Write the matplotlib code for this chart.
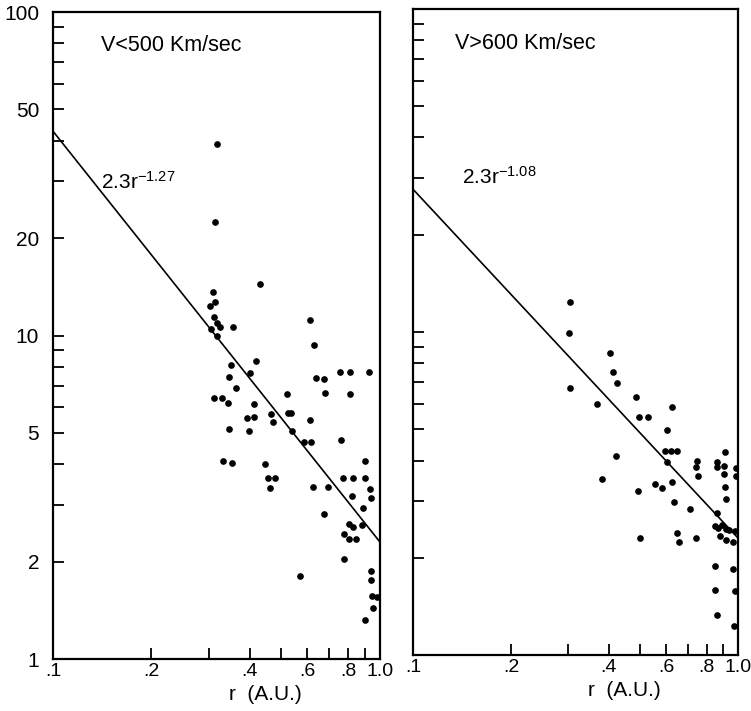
import matplotlib.pyplot as plt
import numpy as np

# Points: r in A.U., value on the log y axis
slow_r = [0.317, 0.313, 0.430, 0.611, 0.309, 0.312, 0.302, 0.311, 0.317, 0.305,
          0.324, 0.355, 0.318, 0.418, 0.350, 0.400, 0.345, 0.362, 0.521, 0.311,
          0.328, 0.342, 0.413, 0.465, 0.523, 0.534, 0.391, 0.412, 0.470, 0.346,
          0.398, 0.538, 0.331, 0.353, 0.446, 0.454, 0.476, 0.461, 0.630, 0.756,
          0.808, 0.925, 0.636, 0.674, 0.680, 0.810, 0.611, 0.587, 0.615, 0.760,
          0.900, 0.772, 0.827, 0.898, 0.625, 0.692, 0.932, 0.821, 0.937, 0.889,
          0.675, 0.804, 0.829, 0.881, 0.778, 0.804, 0.843, 0.778, 0.569, 0.937,
          0.937, 0.943, 0.977, 0.954, 0.900]
slow_v = [39.1, 22.4, 14.4, 11.2, 13.6, 12.7, 12.3, 11.4, 10.9, 10.45,
          10.6, 10.6, 10.0, 8.32, 8.09, 7.66, 7.43, 6.90, 6.58, 6.41,
          6.41, 6.17, 6.15, 5.72, 5.75, 5.75, 5.55, 5.61, 5.39, 5.15,
          5.07, 5.07, 4.09, 4.04, 4.01, 3.64, 3.64, 3.38, 9.35, 7.73,
          7.73, 7.73, 7.37, 7.32, 6.63, 6.58, 5.48, 4.68, 4.68, 4.74,
          4.10, 3.64, 3.64, 3.64, 3.40, 3.40, 3.36, 3.18, 3.15, 2.94,
          2.81, 2.61, 2.56, 2.60, 2.43, 2.35, 2.35, 2.04, 1.81, 1.87,
          1.76, 1.57, 1.55, 1.44, 1.32]

fast_r = [0.304, 0.302, 0.403, 0.413, 0.425, 0.303, 0.484, 0.367, 0.497, 0.527,
          0.625, 0.605, 0.595, 0.622, 0.648, 0.421, 0.382, 0.606, 0.910, 0.749,
          0.740, 0.864, 0.864, 0.904, 0.982, 0.982, 0.904, 0.752, 0.556, 0.582,
          0.627, 0.492, 0.914, 0.921, 0.634, 0.712, 0.864, 0.85, 0.87, 0.89,
          0.92, 0.94, 0.878, 0.921, 0.965, 0.98, 0.500, 0.648, 0.657, 0.740,
          0.847, 0.965, 0.847, 0.98, 0.864, 0.97]
fast_v = [12.4, 9.91, 8.61, 7.52, 6.94, 6.73, 6.31, 5.98, 5.46, 5.46,
          5.87, 4.98, 4.29, 4.29, 4.29, 4.14, 3.50, 3.95, 4.26, 4.00,
          3.83, 3.95, 3.82, 3.86, 3.79, 3.57, 3.64, 3.59, 3.39, 3.29,
          3.42, 3.21, 3.30, 3.04, 2.97, 2.83, 2.75, 2.50, 2.48, 2.52,
          2.46, 2.44, 2.33, 2.27, 2.24, 2.42, 2.30, 2.39, 2.24, 2.30,
          1.89, 1.84, 1.59, 1.58, 1.33, 1.23]

# Power law fits printed on the figure
fit_coef = 2.3
slow_exp = -1.27
fast_exp = -1.08

x_ticks = [0.1, 0.2, 0.3, 0.4, 0.5, 0.6, 0.7, 0.8, 0.9, 1.0]
x_labels = ['.1', '.2', '', '.4', '', '.6', '', '.8', '', '1.0']
y_ticks = [1, 2, 3, 4, 5, 6, 7, 8, 9, 10, 20, 30, 40, 50, 60, 70, 80, 90, 100]
y_labels = ['1', '2', '', '', '5', '', '', '', '', '10', '20', '', '', '50',
            '', '', '', '', '100']

plt.rcParams['font.family'] = ['Liberation Sans', 'DejaVu Sans']
plt.rcParams['mathtext.default'] = 'regular'

fig = plt.figure(figsize=(7.51, 7.11), dpi=100)
ax1 = fig.add_axes([0.0705, 0.0731, 0.4354, 0.910])
ax2 = fig.add_axes([0.550, 0.0788, 0.4328, 0.9086])


def setup_axes(ax, show_ylabels):
    """Log-log frame with inward ticks like the original plot."""
    ax.set_xscale('log')
    ax.set_yscale('log')
    ax.set_xlim(0.1, 1.0)
    ax.set_ylim(1, 100)
    ax.set_xticks(x_ticks)
    ax.set_xticklabels(x_labels, fontsize=14)
    ax.set_yticks(y_ticks)
    if show_ylabels:
        ax.set_yticklabels(y_labels, fontsize=15)
    else:
        ax.set_yticklabels([])
    ax.minorticks_off()
    ax.tick_params(axis='both', direction='in', length=8, width=1.3,
                   top=False, right=False)
    ax.tick_params(axis='x', pad=3)
    ax.tick_params(axis='y', pad=10)
    for spine in ax.spines.values():
        spine.set_linewidth(1.6)
    ax.set_xlabel('r  (A.U.)', fontsize=15)
    ax.xaxis.set_label_coords(0.65, -0.04)


r_line = np.array([0.1, 1.0])

# Left panel: slow solar wind
setup_axes(ax1, True)
ax1.plot(slow_r, slow_v, 'o', color='black', ms=3.8)
ax1.plot(r_line, fit_coef * r_line ** slow_exp, color='black', lw=1.2)
ax1.text(0.147, 0.949, 'V<500 Km/sec', transform=ax1.transAxes,
         fontsize=15.5, va='center')
ax1.text(0.147, 0.738, '2.3r$^{-1.27}$', transform=ax1.transAxes,
         fontsize=15, va='center')

# Right panel: fast solar wind
setup_axes(ax2, False)
ax2.plot(fast_r, fast_v, 'o', color='black', ms=3.8)
ax2.plot(r_line, fit_coef * r_line ** fast_exp, color='black', lw=1.2)
ax2.text(0.129, 0.947, 'V>600 Km/sec', transform=ax2.transAxes,
         fontsize=15.5, va='center')
ax2.text(0.151, 0.740, '2.3r$^{-1.08}$', transform=ax2.transAxes,
         fontsize=15, va='center')

plt.savefig('out.png', dpi=100)
